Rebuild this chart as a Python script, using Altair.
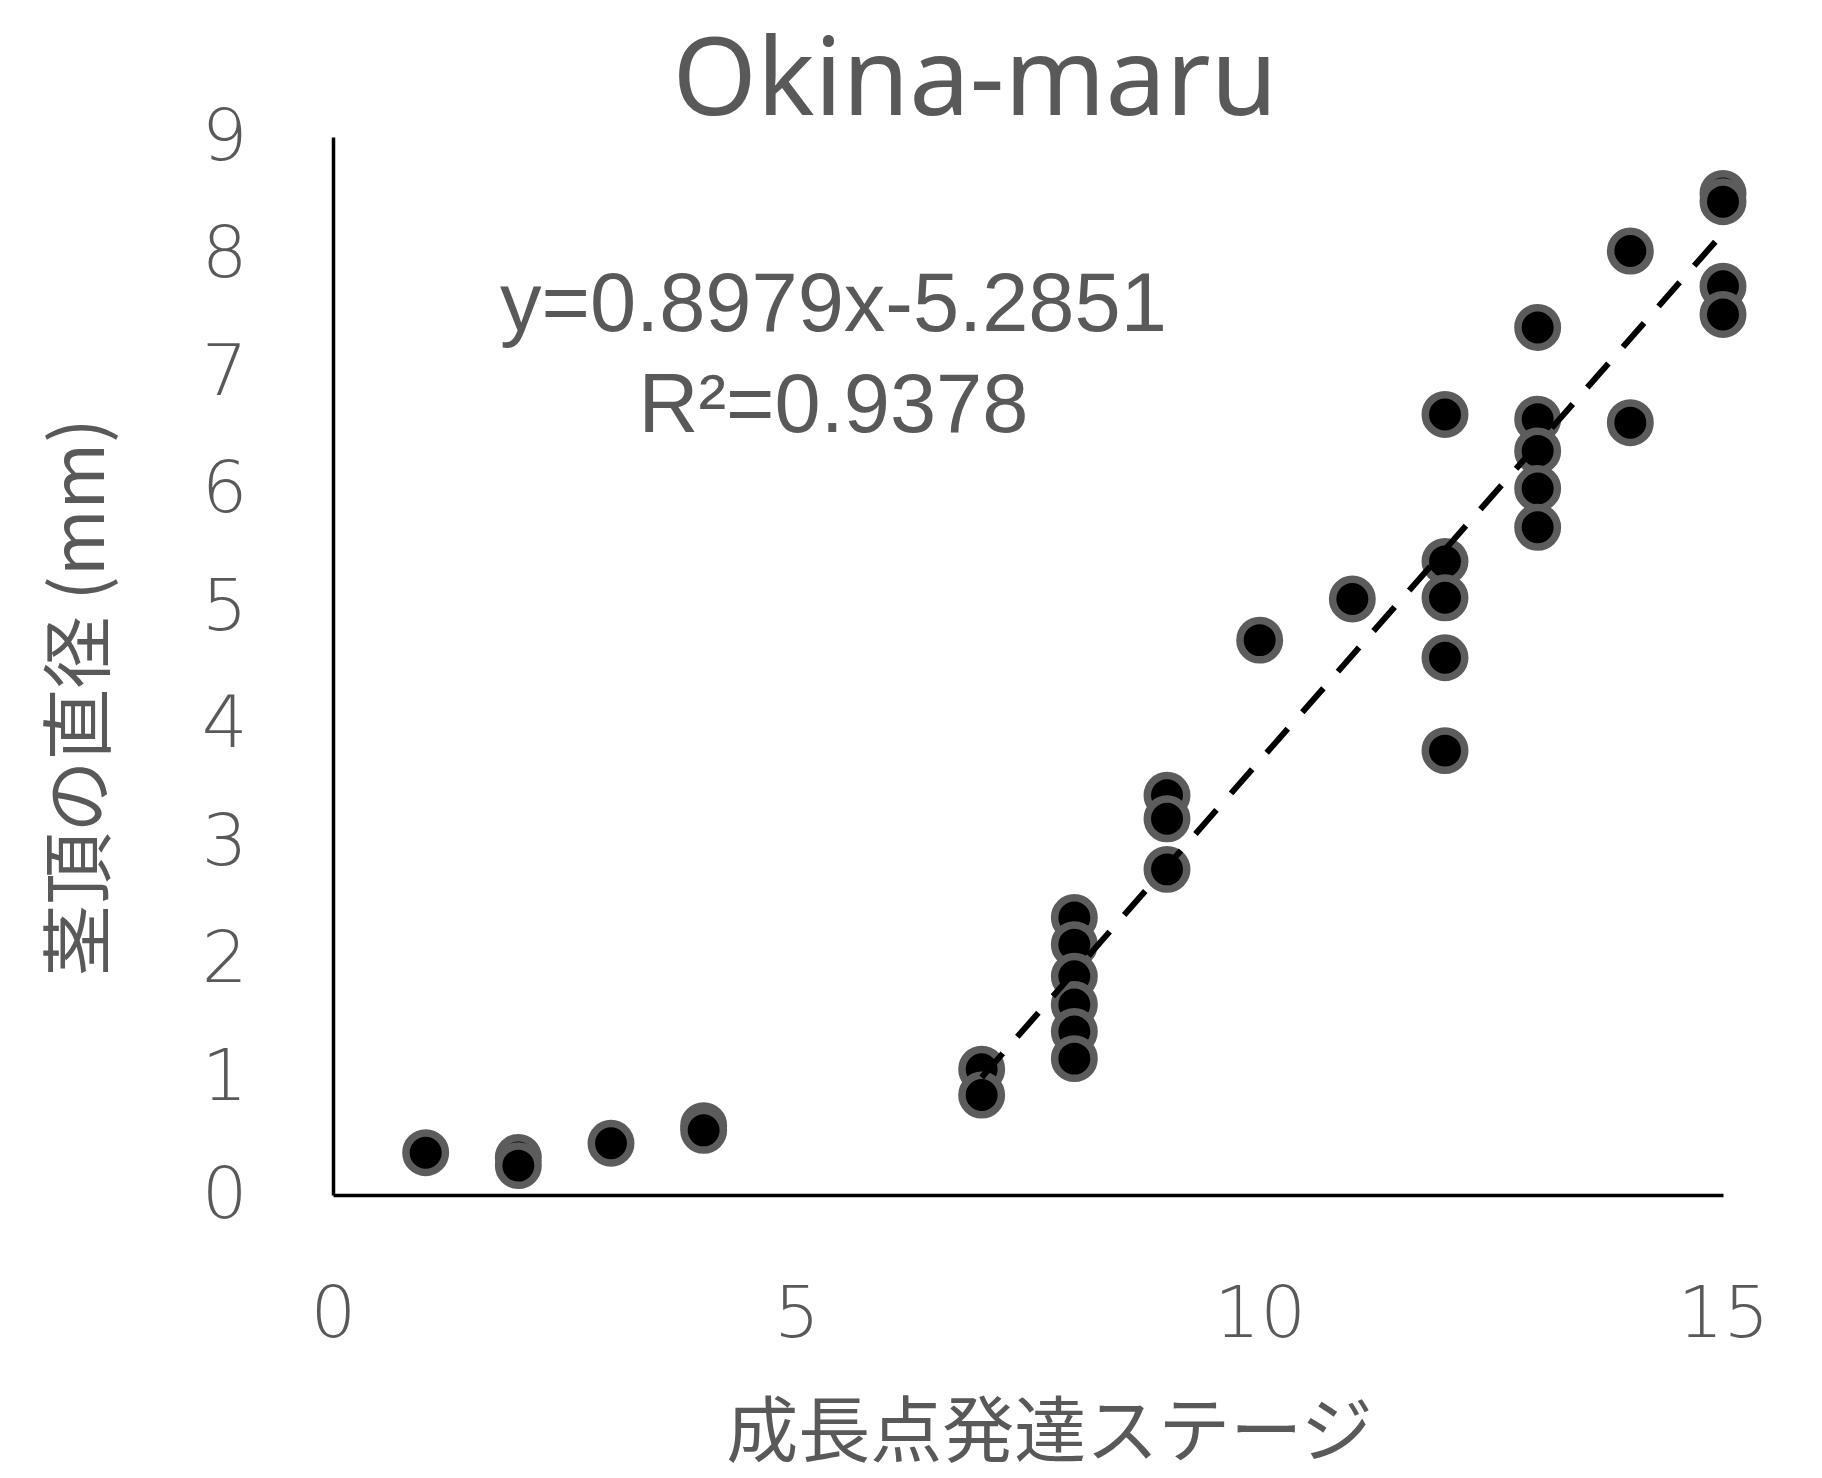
import altair as alt
import pandas as pd

# growth-point development stage and stem-apex diameter (mm)
stage = [1, 2, 2, 3, 4, 4, 7, 7,
         8, 8, 8, 8, 8, 8,
         9, 9, 9, 10, 11,
         12, 12, 12, 12, 12,
         13, 13, 13, 13, 13,
         14, 14,
         15, 15, 15, 15]
diameter = [0.36, 0.32, 0.25, 0.44, 0.59, 0.55, 1.07, 0.85,
            2.36, 2.13, 1.86, 1.62, 1.39, 1.16,
            3.40, 3.20, 2.77, 4.72, 5.07,
            6.64, 5.39, 5.08, 4.57, 3.78,
            7.38, 6.60, 6.33, 6.01, 5.68,
            8.03, 6.57,
            8.52, 8.45, 7.73, 7.49]

# linear trendline shown on chart (y = 0.8979x - 5.2851), drawn over x = 7..15
slope = 0.8979
intercept = -5.2851
trend_x = [7, 15]

x_ticks = [0, 5, 10, 15]
y_ticks = [0, 1, 2, 3, 4, 5, 6, 7, 8, 9]

eq_text = ["y=0.8979x-5.2851", "R²=0.9378"]
eq_x = [5.4]
eq_y = [7.56]

pts = pd.DataFrame({"stage": stage, "diameter": diameter})
trend = pd.DataFrame({"stage": trend_x,
                      "diameter": [slope * v + intercept for v in trend_x]})
ann = pd.DataFrame({"stage": eq_x, "diameter": eq_y, "label": [eq_text]})

GRAY = "#595959"

xscale = alt.Scale(domain=[0, 15], nice=False, zero=True)
yscale = alt.Scale(domain=[0, 9], nice=False, zero=True)

xaxis = alt.Axis(values=x_ticks, title="成長点発達ステージ", format="d",
                 labelPadding=84, labelFlush=False, titleX=716, titleY=238,
                 titleBaseline="middle", titleAlign="center")
yaxis = alt.Axis(values=y_ticks, title="茎頂の直径 (mm)", format="d",
                 labelPadding=86, labelFlush=False, titleX=-252, titleY=560,
                 titleAngle=270, titleBaseline="middle", titleAlign="center")

points = alt.Chart(pts).mark_circle(
    size=1555, color="black", fill="black", stroke="#5c5c5c",
    strokeWidth=7.5, opacity=1
).encode(
    x=alt.X("stage:Q", scale=xscale, axis=xaxis),
    y=alt.Y("diameter:Q", scale=yscale, axis=yaxis),
)

line = alt.Chart(trend).mark_line(
    color="black", strokeWidth=6, strokeDash=[32, 22]
).encode(
    x=alt.X("stage:Q", scale=xscale),
    y=alt.Y("diameter:Q", scale=yscale),
)

text = alt.Chart(ann).mark_text(
    font="Liberation Sans", fontSize=83, color=GRAY, align="center",
    baseline="middle", lineHeight=101
).encode(
    x=alt.X("stage:Q", scale=xscale),
    y=alt.Y("diameter:Q", scale=yscale),
    text="label",
)

chart = alt.layer(points, line, text).properties(
    width=1390,
    height=1058,
    title=alt.TitleParams("Okina-maru", font="Noto Sans", fontSize=108,
                          fontWeight="normal", color=GRAY, anchor="middle",
                          frame="group", dx=-53, baseline="alphabetic",
                          offset=-122),
    padding={"left": 325, "top": 129, "right": 90, "bottom": 283},
    autosize=alt.AutoSizeParams(type="none"),
).configure_view(
    stroke=None
).configure_axis(
    grid=False, ticks=False,
    domainColor="black", domainWidth=3.5,
    labelColor=GRAY, labelFont="DejaVu Sans", labelFontSize=72,
    labelFontWeight="lighter",
    titleColor=GRAY, titleFont="Noto Sans CJK JP", titleFontSize=72,
    titleFontWeight="normal",
)

chart.save("out.html", embed_options={"renderer": "svg", "actions": False})
